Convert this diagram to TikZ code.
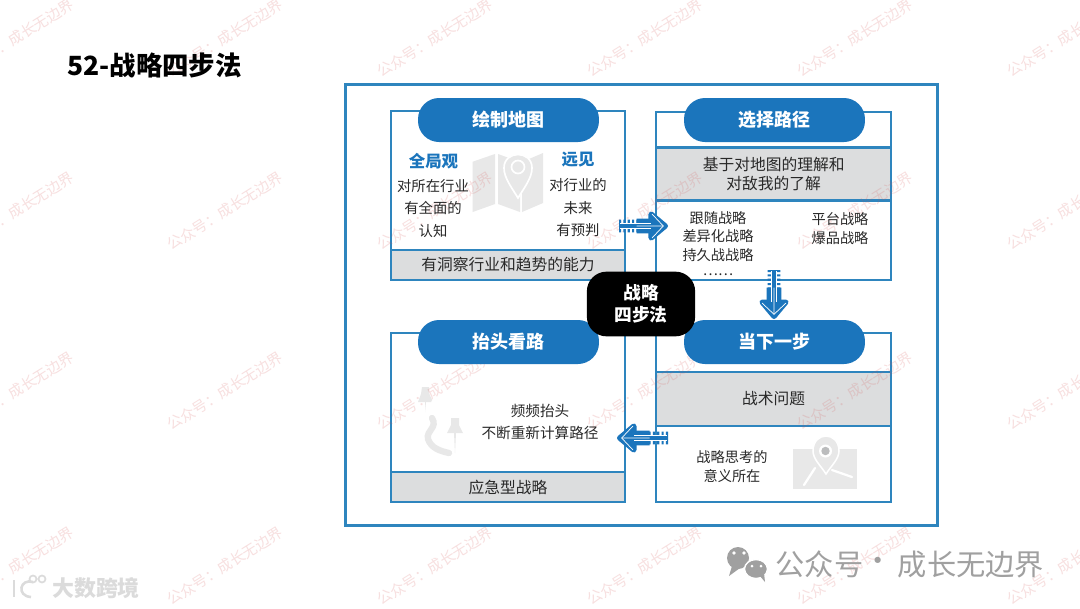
\documentclass[tikz,border=0pt]{standalone}
\usepackage{fontspec}
\usepackage{xcolor}
\usepackage{tikz}
\usetikzlibrary{arrows.meta,calc}
\setmainfont{Noto Sans CJK SC}
\definecolor{FrameBlue}{RGB}{46,133,190}
\definecolor{PillBlue}{RGB}{27,117,188}
\definecolor{BandGray}{RGB}{220,221,222}
\definecolor{IconGray}{RGB}{232,232,232}
\definecolor{InkGray}{RGB}{40,40,40}
\definecolor{MarkRed}{RGB}{214,80,80}
\definecolor{FootGray}{RGB}{160,160,160}
\tikzset{
  frame/.style={draw=FrameBlue, line width=2pt, minimum width=421pt, minimum height=314pt, inner sep=0pt},
  panel/.style={draw=FrameBlue, line width=1.5pt, minimum width=167pt, minimum height=120pt, inner sep=0pt},
  band/.style={draw=FrameBlue, line width=1.5pt, fill=BandGray, minimum width=167pt, inner sep=0pt,
    align=center, text=InkGray, font=\fontsize{11.2}{13.5}\selectfont},
  pill/.style={fill=PillBlue, rounded corners=15pt, minimum width=128.7pt, minimum height=31.3pt, inner sep=0pt,
    text=white, font=\fontsize{12.8}{15}\selectfont\bfseries},
  hub/.style={fill=black, rounded corners=14pt, minimum width=77pt, minimum height=46pt, inner sep=0pt,
    align=center, text=white, font=\fontsize{12.6}{16}\selectfont\bfseries},
  lead/.style={text=PillBlue, inner sep=0pt, font=\fontsize{11.7}{14}\selectfont\bfseries},
  wide/.style={align=center, text=InkGray, inner sep=0pt, font=\fontsize{10.2}{16}\selectfont},
  tight/.style={align=center, text=InkGray, inner sep=0pt, font=\fontsize{10.1}{13}\selectfont},
  wmark/.style={rotate=32, text=MarkRed, text opacity=0.18, inner sep=0pt, font=\fontsize{10.5}{12}\selectfont},
  foot/.style={text=FootGray, inner sep=0pt, font=\fontsize{20.8}{24}\selectfont},
  flowdots/.style={PillBlue, line width=9pt, dash pattern=on 1.5pt off 1.6pt},
  flowbody/.style={PillBlue, line width=10.5pt, -{Triangle[round,length=15pt,width=24pt]}},
  flowline/.style={white, line width=.45pt, double=PillBlue, double distance=3.4pt},
  flowchev/.style={white, line width=.5pt, shorten >=3pt, -{Straight Barb[length=8pt,width=17pt,line width=.5pt]}},
}
\newcommand{\flowarr}[2]{%
  \draw[flowdots] (#1) -- ($(#1)!0.42!(#2)$);
  \draw[flowbody] ($(#1)!0.36!(#2)$) -- (#2);
  \draw[flowline] ($(#1)!0.02!(#2)$) -- ($(#1)!0.66!(#2)$);
  \draw[flowchev] ($(#1)!0.36!(#2)$) -- (#2);
}
\begin{document}
\begin{tikzpicture}[x=0.025cm, y=-0.025cm]
  \useasboundingbox (0,0) rectangle (1080,608);
  \fill[white] (0,0) rectangle (1080,608);
  % frames
  \node[frame] (outer) at (641.5,305) {};
  \node[panel] (mapbox) at (508,195.5) {};
  \node[panel] (routebox) at (773.7,196) {};
  \node[panel] (lookbox) at (508,417.5) {};
  \node[panel] (nowbox) at (773.7,417.5) {};
  % bands
  \node[band, minimum height=21.3pt] (mapband) at (508,265) {\raisebox{-.7pt}{有洞察行业和趋势的能力}};
  \node[band, minimum height=37.7pt] (routeband) at (773.7,174) {基于对地图的理解和\\对敌我的了解};
  \node[band, minimum height=21.3pt] (lookband) at (508,487) {\raisebox{-.7pt}{应急型战略}};
  \node[band, minimum height=38.4pt] (nowband) at (773.7,399) {\raisebox{-.7pt}{战术问题}};
  % map icon
  \fill[IconGray] (472.7,161.7) -- (495,154) -- (495,204) -- (472.7,212) -- cycle;
  \fill[IconGray] (498,154) -- (520,162) -- (520,212) -- (498,204) -- cycle;
  \fill[IconGray] (522,162) -- (543,153) -- (543,203) -- (522,212) -- cycle;
  \draw[white, line width=1.2pt, fill=IconGray] (518,198) .. controls (512,188) and (504,178) .. (504,168)
    .. controls (504,150) and (532,150) .. (532,168) .. controls (532,178) and (524,188) .. (518,198) -- cycle;
  \draw[white, line width=1.2pt] (518,167) circle (6.5);
  % pins icon
  \fill[IconGray] (422,387) -- (429,387) -- (429,393) -- (432,400) -- (431,402) -- (426,402) -- (425,412) -- (425,402) -- (418,402) -- (421,394) -- cycle;
  \fill[IconGray] (451,418) -- (459,418) -- (459,425) -- (463,433) -- (456,433) -- (455,453) -- (454,433) -- (447,433) -- (451,425) -- cycle;
  \draw[IconGray, line width=4.5pt, line cap=round] (432,418) .. controls (438,428) and (426,430) .. (428,439) .. controls (431,448) and (440,451) .. (449,453);
  % pointer icon
  \fill[IconGray] (793,449) rectangle (857,489);
  \draw[white, line width=1.6pt, line cap=round] (804,485) -- (815,468);
  \draw[white, line width=1.6pt, line cap=round] (832,470) -- (852,477);
  \draw[white, line width=1.1pt, fill=IconGray] (826,474) .. controls (821,466) and (813,459) .. (813,451)
    .. controls (813,431) and (839,431) .. (839,451) .. controls (839,459) and (831,466) .. (826,474) -- cycle;
  \fill[white] (825.5,451) circle (6.5);
  \fill[BandGray!85!black] (825.5,451) circle (4.2);
  % watermark
  \foreach \wx in {16,225,435,645,855,1065} {
    \foreach \wy in {38,211,391,566} {
      \node[wmark] (wm\wx\wy) at (\wx,\wy) {公众号：成长无边界};
    }
  }
  % arrows
  \coordinate (maptail) at (619,226);
  \coordinate (routetip) at (668,226);
  \coordinate (routetail) at (774,270);
  \coordinate (nowtip) at (774,319);
  \coordinate (nowtail) at (668,438);
  \coordinate (looktip) at (617,438);
  \flowarr{maptail}{routetip}
  \flowarr{routetail}{nowtip}
  \flowarr{nowtail}{looktip}
  % pills
  \node[pill] (mappill) at (508.5,120) {\raisebox{-.7pt}{绘制地图}};
  \node[pill] (routepill) at (774.5,120) {\raisebox{-.7pt}{选择路径}};
  \node[pill] (lookpill) at (508.5,342) {\raisebox{-.7pt}{抬头看路}};
  \node[pill] (nowpill) at (774.5,342) {\raisebox{-.7pt}{当下一步}};
  % labels
  \node[lead] (viewlead) at (433.5,161.5) {全局观};
  \node[wide] (viewtext) at (433,208.5) {对所在行业\\有全面的\\认知};
  \node[lead] (farlead) at (578,160) {远见};
  \node[wide] (fartext) at (578,208) {对行业的\\未来\\有预判};
  \node[tight] (routeleft) at (718,236.5) {跟随战略\\差异化战略\\持久战战略};
  \node[tight] (dotsleft) at (718,275) {……};
  \node[tight] (routeright) at (840,228.5) {平台战略\\爆品战略};
  \node[wide, font=\fontsize{10.4}{15}\selectfont] (looktext) at (540,422) {频频抬头\\不断重新计算路径};
  \node[tight] (nowtext) at (732,466.5) {战略思考的\\意义所在};
  \node[hub] (hubbox) at (641,304) {战略\\四步法};
  % title
  \node[anchor=west, inner sep=0pt, font=\fontsize{18.8}{22}\selectfont\bfseries] (headline) at (67,65) {52-战略四步法};
  % footer
  \fill[FootGray] (738,558) circle (11);
  \fill[FootGray] (732,566) -- (729,576) -- (740,568) -- cycle;
  \fill[white] (734,553) circle (1.8) (744,553) circle (1.8);
  \draw[white, line width=1pt, fill=FootGray] (756,569) ellipse (11.5 and 9.5);
  \fill[FootGray] (760,576) -- (765,582) -- (764,573) -- cycle;
  \fill[white] (752,566) circle (1.5) (761,566) circle (1.5);
  \node[foot] (foota) at (819.5,564) {公众号};
  \node[foot] (footb) at (878,564) {·};
  \node[foot] (footc) at (971,564) {成长无边界};
  \node[text=gray!28, inner sep=0pt, font=\fontsize{15.6}{18}\selectfont\bfseries] (brand) at (96,588) {大数跨境};
  \draw[gray!28, line width=1.8pt] (14,580) -- (14,597);
  \draw[gray!28, line width=1.8pt] (33,582) .. controls (20,578) and (16,596) .. (31,597);
  \draw[gray!28, line width=1.2pt] (33,579) circle (3.5) (42,579) circle (3.5);
\end{tikzpicture}
\end{document}
